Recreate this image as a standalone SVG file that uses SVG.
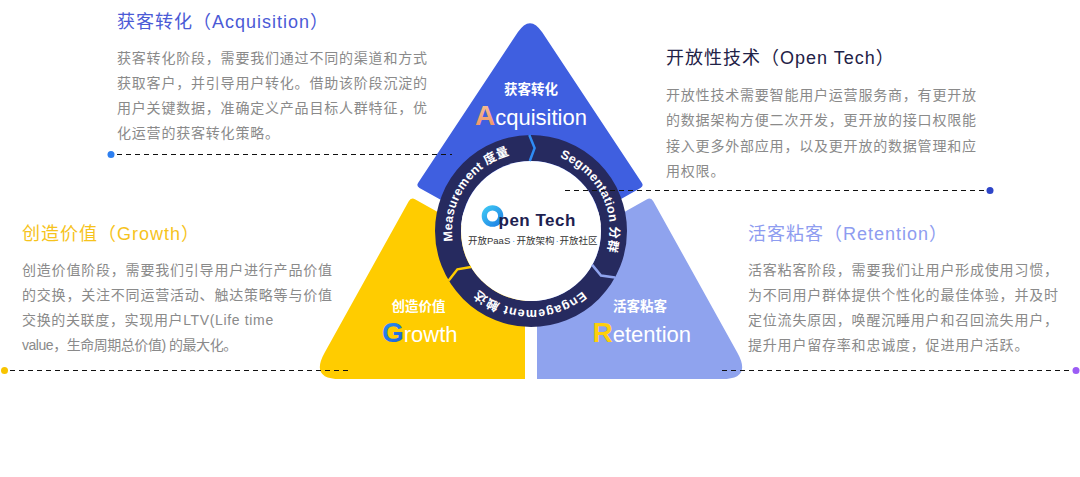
<svg xmlns="http://www.w3.org/2000/svg" width="1080" height="477" viewBox="0 0 1080 477">
<defs>
<linearGradient id="gA" gradientUnits="userSpaceOnUse" x1="0" y1="104" x2="0" y2="125"><stop offset="0" stop-color="#F8C095"/><stop offset="1" stop-color="#EF976A"/></linearGradient>
<linearGradient id="gG" gradientUnits="userSpaceOnUse" x1="382" y1="320" x2="402" y2="342"><stop offset="0" stop-color="#2E92F2"/><stop offset="1" stop-color="#1D63DA"/></linearGradient>
<linearGradient id="gO" gradientUnits="userSpaceOnUse" x1="482" y1="205" x2="503" y2="227"><stop offset="0" stop-color="#42D0F6"/><stop offset="1" stop-color="#1B78E2"/></linearGradient>
<path id="ringPath" d="M 462.58 270.5 A 79 79 0 1 1 599.42 191.5 A 79 79 0 1 1 462.58 270.5"/>
</defs>
<style>
text{font-family:'Liberation Sans','Noto Sans CJK SC',sans-serif}
.title{font-size:18px;letter-spacing:1px}
.body{font-size:14px;letter-spacing:0.8px;fill:#8A8A8A}
.lbl{font-size:13.5px;font-weight:bold;fill:#fff;text-anchor:middle}
.big{font-size:28px;font-weight:bold}
.word{font-size:22px;fill:#fff}
.ring{font-size:12.5px;font-weight:bold;fill:#fff}
.dash{stroke:#111;stroke-width:1.2;stroke-dasharray:5 4;fill:none}
.chev{fill:none;stroke-width:2.5;stroke-linejoin:miter}
</style>
<rect width="1080" height="477" fill="#fff"/>

<g id="node-acquisition">
<path d="M 517.8 32.3 Q 530 14 542.2 32.3 L 641.8 182.7 Q 644 186 640.5 188 L 531 250 L 419.5 187.9 Q 416 186 418.2 182.7 Z" fill="#3F5FE0"/>
<text class="lbl" x="531" y="93.5">获客转化</text>
<text x="475" y="124.5"><tspan class="big" fill="url(#gA)">A</tspan><tspan class="word">cquisition</tspan></text>
</g>

<g id="node-growth">
<path d="M 415.4 199.5 L 525 261 L 525 379 L 340 379 Q 310 379 324.6 352.8 L 408.6 201.4 Q 411 197 415.4 199.5 Z" fill="#FFCC00"/>
<text class="lbl" x="418.5" y="310.5">创造价值</text>
<text x="382" y="342"><tspan class="big" fill="url(#gG)">G</tspan><tspan class="word">rowth</tspan></text>
</g>

<g id="node-retention">
<path d="M 646.6 199.5 L 537 261 L 537 379 L 722 379 Q 752 379 737.4 352.8 L 653.4 201.4 Q 651 197 646.6 199.5 Z" fill="#8FA3EE"/>
<text class="lbl" x="640" y="310.5">活客粘客</text>
<text x="592.5" y="342"><tspan class="big" fill="#FFCF0A">R</tspan><tspan class="word">etention</tspan></text>
</g>

<g id="node-opentech-ring">
<circle cx="531" cy="231" r="83" fill="none" stroke="#262A5F" stroke-width="26"/>
<circle cx="531" cy="231" r="70" fill="#fff"/>
<polyline class="chev" stroke="#2F8CF5" points="529.3,135 534.6,148.1 529.8,161"/>
<polyline class="chev" stroke="#8FA3EE" points="615,277.5 601,275.6 592.2,264.9"/>
<polyline class="chev" stroke="#FFCC00" points="448.7,280.4 457.4,269.3 471,267.1"/>
<text class="ring" letter-spacing="0.25"><textPath href="#ringPath" startOffset="31.2">Measurement 度量</textPath></text>
<text class="ring" letter-spacing="0.3"><textPath href="#ringPath" startOffset="194.4">Segmentation 分群</textPath></text>
<text class="ring" letter-spacing="0.8"><textPath href="#ringPath" startOffset="357.1">Engagement 触达</textPath></text>
<circle cx="492.5" cy="216" r="8.2" fill="none" stroke="url(#gO)" stroke-width="5.2"/>
<text x="498.5" y="225.5" font-size="17" font-weight="bold" fill="#1D2150" letter-spacing="0.5">pen Tech</text>
<text font-size="9.5" fill="#333"><tspan x="468" y="244">开放PaaS</tspan><tspan x="512" fill="#36A3F0">·</tspan><tspan x="516.5">开放架构</tspan><tspan x="555.5" fill="#36A3F0">·</tspan><tspan x="559.5">开放社区</tspan></text>
</g>

<g id="text-acquisition">
<text class="title" x="117" y="27.5" fill="#4B5AD6">获客转化（Acquisition）</text>
<text class="body" x="117" y="62.5">获客转化阶段，需要我们通过不同的渠道和方式</text>
<text class="body" x="117" y="87.5">获取客户，并引导用户转化。借助该阶段沉淀的</text>
<text class="body" x="117" y="112.5">用户关键数据，准确定义产品目标人群特征，优</text>
<text class="body" x="117" y="137.5">化运营的获客转化策略。</text>
</g>

<g id="text-opentech">
<text class="title" x="666" y="63.5" fill="#1F2247">开放性技术（Open Tech）</text>
<text class="body" x="666" y="100">开放性技术需要智能用户运营服务商，有更开放</text>
<text class="body" x="666" y="125">的数据架构方便二次开发，更开放的接口权限能</text>
<text class="body" x="666" y="150.5">接入更多外部应用，以及更开放的数据管理和应</text>
<text class="body" x="666" y="175.5">用权限。</text>
</g>

<g id="text-growth">
<text class="title" x="22" y="240" fill="#F6C31C">创造价值（Growth）</text>
<text class="body" x="22" y="275">创造价值阶段，需要我们引导用户进行产品价值</text>
<text class="body" x="22" y="300">的交换，关注不同运营活动、触达策略等与价值</text>
<text class="body" x="22" y="325" letter-spacing="0" textLength="252" lengthAdjust="spacing">交换的关联度，实现用户LTV(Life time</text>
<text class="body" x="22" y="350" letter-spacing="0" textLength="216" lengthAdjust="spacing">value，生命周期总价值) 的最大化。</text>
</g>

<g id="text-retention">
<text class="title" x="748" y="240" fill="#8E9CF0">活客粘客（Retention）</text>
<text class="body" x="748" y="274.5">活客粘客阶段，需要我们让用户形成使用习惯，</text>
<text class="body" x="748" y="299.5">为不同用户群体提供个性化的最佳体验，并及时</text>
<text class="body" x="748" y="324.5">定位流失原因，唤醒沉睡用户和召回流失用户，</text>
<text class="body" x="748" y="349.5">提升用户留存率和忠诚度，促进用户活跃。</text>
</g>

<g id="connectors">
<line class="dash" x1="117" y1="154.5" x2="452" y2="154.5"/>
<circle cx="111" cy="154.5" r="3.5" fill="#2D7FF0"/>
<line class="dash" x1="565" y1="190.5" x2="985" y2="190.5"/>
<circle cx="990" cy="190.5" r="3.5" fill="#2E45C8"/>
<line class="dash" x1="10" y1="370.5" x2="352" y2="370.5"/>
<circle cx="4.5" cy="370.5" r="3.5" fill="#F8C400"/>
<line class="dash" x1="722" y1="370.5" x2="1071" y2="370.5"/>
<circle cx="1076" cy="370.5" r="3.5" fill="#9B5CF5"/>
</g>
</svg>
